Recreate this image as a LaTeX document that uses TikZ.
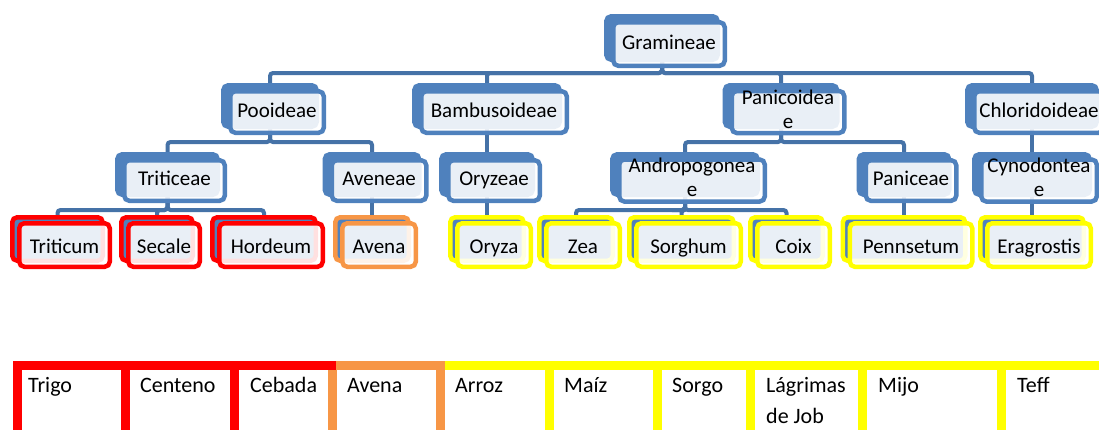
\documentclass[tikz,border=0pt]{standalone}
\usepackage{fontspec}
\setmainfont{Carlito}
\definecolor{BoxBlue}{RGB}{79, 129, 189}
\definecolor{LinkBlue}{RGB}{69, 114, 167}
\definecolor{CropRed}{RGB}{255, 0, 0}
\definecolor{CropOrange}{RGB}{247, 150, 70}
\definecolor{CropYellow}{RGB}{255, 255, 0}
\usepackage{tikz}
\usetikzlibrary{backgrounds}

\begin{document}
\begin{tikzpicture}[x=1pt, y=-1pt,
        back/.style={rectangle, draw=#1, fill=BoxBlue, line width=4.5pt, rounded corners=5pt, inner sep=0pt},
        back/.default=BoxBlue,
        front/.style={rectangle, draw=#1, fill=white, fill opacity=0.88, text opacity=1, line width=4.5pt, rounded corners=5pt, inner sep=0pt, align=center, font=\fontsize{21}{24}\selectfont, text height=15pt, text depth=5pt},
        front/.default=BoxBlue,
        leaf/.style={text height=20pt, text depth=4pt},
        twolines/.style={text height=37pt, text depth=5pt},
        sz/.style 2 args={minimum width=#1pt, minimum height=#2pt},
        link/.style={draw=LinkBlue, line width=4pt, rounded corners=3pt},
        cell/.style={anchor=base west, align=left, inner sep=0pt, font=\fontsize{22}{31}\selectfont},
        cellline/.style={draw=#1, line width=9pt}
    ]
        \useasboundingbox (0,0) rectangle (1099,429);
        \clip (0,0) rectangle (1099,429);

        \node[back, sz={111.5}{43.5}] (gramb) at (662,38) {};
        \node[front, sz={111.5}{43.5}] (gram) at (669,44) {Gramineae};

        \node[back, sz={93.5}{41.5}] (poob) at (270,106) {};
        \node[front, sz={93.5}{41.5}] (poo) at (277,112) {Pooideae};
        \node[back, sz={145.5}{41.5}] (bamb) at (487,106) {};
        \node[front, sz={145.5}{41.5}] (bam) at (494,112) {Bambusoideae};
        \node[back, sz={112.5}{41.5}] (panb) at (781,106) {};
        \node[front, twolines, sz={112.5}{41.5}] (pan) at (788,112) {Panicoidea\\e};
        \node[back, sz={129.5}{41.5}] (chlb) at (1032,106) {};
        \node[front, sz={129.5}{41.5}] (chl) at (1039,112) {Chloridoideae};

        \node[back, sz={100.5}{40.5}] (tritcb) at (167.5,174.5) {};
        \node[front, sz={100.5}{40.5}] (tritc) at (174.5,180.5) {Triticeae};
        \node[back, sz={94.5}{40.5}] (avenb) at (372,174.5) {};
        \node[front, sz={94.5}{40.5}] (aven) at (379,180.5) {Aveneae};
        \node[back, sz={91.5}{40.5}] (oryzb) at (487,174.5) {};
        \node[front, sz={91.5}{40.5}] (oryz) at (494,180.5) {Oryzeae};
        \node[back, sz={145.5}{40.5}] (andrb) at (685,174.5) {};
        \node[front, twolines, sz={145.5}{40.5}] (andr) at (692,180.5) {Andropogonea\\e};
        \node[back, sz={90.5}{40.5}] (pancb) at (904,174.5) {};
        \node[front, sz={90.5}{40.5}] (panc) at (911,180.5) {Paniceae};
        \node[back, sz={115.5}{40.5}] (cynob) at (1032,174.5) {};
        \node[front, twolines, sz={115.5}{40.5}] (cyno) at (1039,180.5) {Cynodontea\\e};

        \node[back=CropRed, sz={90.5}{43.5}] (tritb) at (57.5,239) {};
        \node[front=CropRed, leaf, sz={90.5}{43.5}] (trit) at (64.5,245) {Triticum};
        \node[back=CropRed, sz={71.5}{43.5}] (secb) at (157,239) {};
        \node[front=CropRed, leaf, sz={71.5}{43.5}] (sec) at (164,245) {Secale};
        \node[back=CropRed, sz={103.5}{43.5}] (hordb) at (264,239) {};
        \node[front=CropRed, leaf, sz={103.5}{43.5}] (hord) at (271,245) {Hordeum};
        \node[back=CropOrange, sz={73.5}{43.5}] (avnb) at (372,239) {};
        \node[front=CropOrange, leaf, sz={73.5}{43.5}] (avn) at (379,245) {Avena};
        \node[back=CropYellow, sz={73.5}{43.5}] (oryb) at (487,239) {};
        \node[front=CropYellow, leaf, sz={73.5}{43.5}] (ory) at (494,245) {Oryza};
        \node[back=CropYellow, sz={73.5}{43.5}] (zeab) at (576,239) {};
        \node[front=CropYellow, leaf, sz={73.5}{43.5}] (zea) at (583,245) {Zea};
        \node[back=CropYellow, sz={104.5}{43.5}] (sorgb) at (681.5,239) {};
        \node[front=CropYellow, leaf, sz={104.5}{43.5}] (sorg) at (688.5,245) {Sorghum};
        \node[back=CropYellow, sz={72.5}{43.5}] (coixb) at (786.5,239) {};
        \node[front=CropYellow, leaf, sz={72.5}{43.5}] (coix) at (793.5,245) {Coix};
        \node[back=CropYellow, sz={122.5}{43.5}] (pennb) at (904,239) {};
        \node[front=CropYellow, leaf, sz={122.5}{43.5}] (penn) at (911,245) {Pennsetum};
        \node[back=CropYellow, sz={103.5}{43.5}] (eragb) at (1032,239) {};
        \node[front=CropYellow, leaf, sz={103.5}{43.5}] (erag) at (1039,245) {Eragrostis};

        \begin{scope}[on background layer]
            \draw[link] (gramb.south) -- (gramb.south |- 0,73) -| (poob.north);
            \draw[link] (gramb.south) -- (gramb.south |- 0,73) -| (bamb.north);
            \draw[link] (gramb.south) -- (gramb.south |- 0,73) -| (panb.north);
            \draw[link] (gramb.south) -- (gramb.south |- 0,73) -| (chlb.north);
            \draw[link] (poob.south) -- (poob.south |- 0,142) -| (tritcb.north);
            \draw[link] (poob.south) -- (poob.south |- 0,142) -| (avenb.north);
            \draw[link] (bamb.south) -- (oryzb.north);
            \draw[link] (panb.south) -- (panb.south |- 0,142) -| (andrb.north);
            \draw[link] (panb.south) -- (panb.south |- 0,142) -| (pancb.north);
            \draw[link] (chlb.south) -- (cynob.north);
            \draw[link] (tritcb.south) -- (tritcb.south |- 0,210) -| (tritb.north);
            \draw[link] (tritcb.south) -- (tritcb.south |- 0,210) -| (secb.north);
            \draw[link] (tritcb.south) -- (tritcb.south |- 0,210) -| (hordb.north);
            \draw[link] (avenb.south) -- (avnb.north);
            \draw[link] (oryzb.south) -- (oryb.north);
            \draw[link] (andrb.south) -- (andrb.south |- 0,210) -| (zeab.north);
            \draw[link] (andrb.south) -- (andrb.south |- 0,210) -| (sorgb.north);
            \draw[link] (andrb.south) -- (andrb.south |- 0,210) -| (coixb.north);
            \draw[link] (pancb.south) -- (pennb.north);
            \draw[link] (cynob.south) -- (eragb.north);
        \end{scope}

        \draw[cellline=CropOrange] (332.5,370) -- (332.5,440) (440.5,361) -- (440.5,440);
        \draw[cellline=CropYellow] (445,365.5) -- (1110,365.5) (549.5,361) -- (549.5,440) (657.5,361) -- (657.5,440)
            (750.5,361) -- (750.5,440) (862.5,361) -- (862.5,440) (1001.5,361) -- (1001.5,440);
        \draw[cellline=CropOrange] (336,365.5) -- (445,365.5);
        \draw[cellline=CropRed] (13,365.5) -- (336,365.5) (17.5,361) -- (17.5,440) (125.5,361) -- (125.5,440)
            (234.5,361) -- (234.5,440);

        \node[cell] (trigo) at (28,392) {Trigo};
        \node[cell] (centeno) at (140,392) {Centeno};
        \node[cell] (cebada) at (250,392) {Cebada};
        \node[cell] (avenac) at (347,392) {Avena};
        \node[cell] (arroz) at (455,392) {Arroz};
        \node[cell] (maiz) at (564,392) {Maíz};
        \node[cell] (sorgo) at (672,392) {Sorgo};
        \node[cell] (lagrimas) at (766,423) {Lágrimas\\de Job};
        \node[cell] (mijo) at (878,392) {Mijo};
        \node[cell] (teff) at (1017,392) {Teff};
    \end{tikzpicture}
\end{document}
